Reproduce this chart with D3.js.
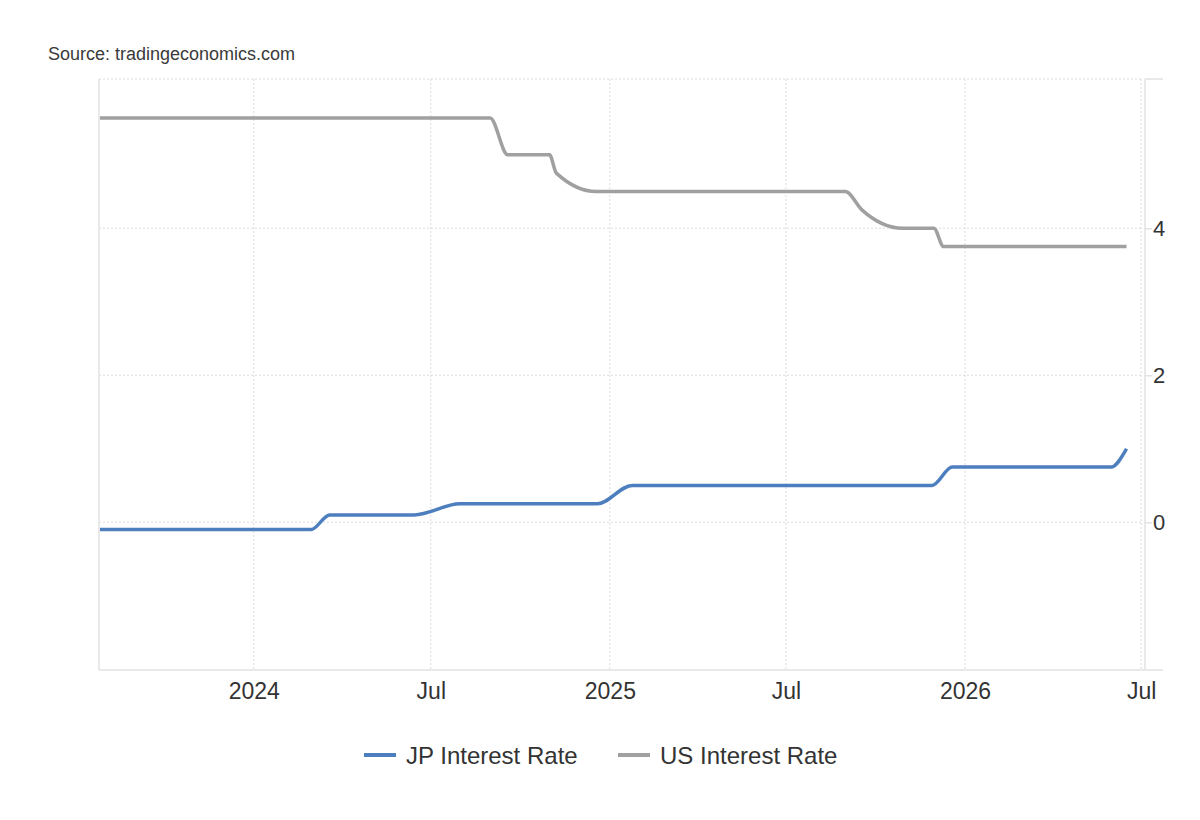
<!DOCTYPE html>
<html>
<head>
<meta charset="utf-8">
<script src="https://cdn.jsdelivr.net/npm/d3@7"></script>
<style>
    body { margin: 0; background: #fff; }
    text { font-family: "Liberation Sans", Arial, sans-serif; fill: #333; }
</style>
</head>
<body>
<div id="chart"></div>
<script>

// data (policy rate, %)
var jpDates = ["2023-07-27", "2024-02-29", "2024-03-19", "2024-06-14", "2024-07-31", "2024-12-19",
    "2025-01-24", "2025-11-28", "2025-12-19", "2026-05-31", "2026-06-16"];
var jpRates = [-0.1, -0.1, 0.1, 0.1, 0.25, 0.25, 0.5, 0.5, 0.75, 0.75, 1.0];

var usDates = ["2023-07-27", "2024-08-31", "2024-09-18", "2024-10-31", "2024-11-07", "2024-12-18",
    "2025-08-31", "2025-09-17", "2025-10-29", "2025-11-30", "2025-12-10", "2026-06-16"];
var usRates = [5.5, 5.5, 5.0, 5.0, 4.75, 4.5, 4.5, 4.25, 4.0, 4.0, 3.75, 3.75];

var xTickDates = ["2024-01-01", "2024-07-01", "2025-01-01", "2025-07-01", "2026-01-01", "2026-07-01"];
var xTickLabels = ["2024", "Jul", "2025", "Jul", "2026", "Jul"];
var yTicks = [0, 2, 4];

var seriesNames = ["JP Interest Rate", "US Interest Rate"];
var seriesColors = ["#4d7fbf", "#a0a0a0"];

var parse = d3.timeParse("%Y-%m-%d");

var width = 1200, height = 820;
var plot = { left: 99, right: 1145, top: 79, bottom: 670 };

var svg = d3.select("#chart").append("svg")
    .attr("width", width)
    .attr("height", height);

var x = d3.scaleTime()
    .domain([parse("2023-07-26"), parse("2026-07-05")])
    .range([plot.left, plot.right]);

var y = d3.scaleLinear()
    .domain([-2.01, 6.03])
    .range([plot.bottom, plot.top]);

// source line
svg.append("text")
    .attr("x", 48)
    .attr("y", 60)
    .style("font-size", "18px")
    .style("fill", "#3a3a3a")
    .text("Source: tradingeconomics.com");

// GRIDLINES (dotted)
var grid = svg.append("g");
grid.selectAll(".vgrid")
    .data(xTickDates)
    .join("line")
    .attr("x1", d => x(parse(d)))
    .attr("x2", d => x(parse(d)))
    .attr("y1", plot.top)
    .attr("y2", plot.bottom)
    .attr("stroke", "#dcdcdc")
    .attr("stroke-dasharray", "2,2");

grid.selectAll(".hgrid")
    .data(yTicks.map(d => y(d)).concat([plot.top]))
    .join("line")
    .attr("x1", plot.left)
    .attr("x2", x(parse("2026-07-01")))
    .attr("y1", d => d)
    .attr("y2", d => d)
    .attr("stroke", "#dcdcdc")
    .attr("stroke-dasharray", "2,2");

// frame lines
var frame = svg.append("g").attr("stroke", "#e2e2e2").attr("stroke-width", 1.5);
frame.append("line").attr("x1", plot.left).attr("x2", plot.left).attr("y1", plot.top).attr("y2", plot.bottom);
frame.append("line").attr("x1", plot.left).attr("x2", plot.right + 18).attr("y1", plot.bottom).attr("y2", plot.bottom);
frame.append("line").attr("x1", plot.right).attr("x2", plot.right).attr("y1", plot.top).attr("y2", plot.bottom);
frame.append("line").attr("x1", plot.right).attr("x2", plot.right + 18).attr("y1", plot.top).attr("y2", plot.top);

// X AXIS
var xAxis = d3.axisBottom(x)
    .tickValues(xTickDates.map(parse))
    .tickFormat((d, i) => xTickLabels[i])
    .tickSize(0)
    .tickPadding(13);

svg.append("g")
    .attr("transform", "translate(0," + plot.bottom + ")")
    .call(xAxis)
    .call(g => g.select(".domain").remove())
    .selectAll("text")
    .style("font-size", "23px")
    .style("fill", "#333");

// Y AXIS (right side)
var yAxis = d3.axisRight(y)
    .tickValues(yTicks)
    .tickFormat(d3.format("d"))
    .tickSize(7)
    .tickPadding(1);

var yg = svg.append("g")
    .attr("transform", "translate(" + plot.right + ",0)")
    .call(yAxis);
yg.select(".domain").remove();
yg.selectAll("line").attr("stroke", "#e2e2e2").attr("stroke-width", 1.5);
yg.selectAll("text").style("font-size", "22px").style("fill", "#333");

// LINES
var line = d3.line()
    .x(d => x(d.date))
    .y(d => y(d.value))
    .curve(d3.curveMonotoneX);

var series = [
    jpDates.map((d, i) => ({ date: parse(d), value: jpRates[i] })),
    usDates.map((d, i) => ({ date: parse(d), value: usRates[i] }))
];

// draw US first so JP sits on top
[1, 0].forEach(function (k) {
    svg.append("path")
        .datum(series[k])
        .attr("fill", "none")
        .attr("stroke", seriesColors[k])
        .attr("stroke-width", 3.5)
        .attr("stroke-linejoin", "round")
        .attr("d", line);
});

// LEGEND
var legendX = [364, 618];
var legend = svg.append("g");
seriesNames.forEach(function (name, i) {
    legend.append("line")
        .attr("x1", legendX[i])
        .attr("x2", legendX[i] + 32)
        .attr("y1", 755)
        .attr("y2", 755)
        .attr("stroke", seriesColors[i])
        .attr("stroke-width", 4);
    legend.append("text")
        .attr("x", legendX[i] + 42)
        .attr("y", 764)
        .style("font-size", "24px")
        .style("fill", "#333")
        .text(name);
});

</script>
</body>
</html>
